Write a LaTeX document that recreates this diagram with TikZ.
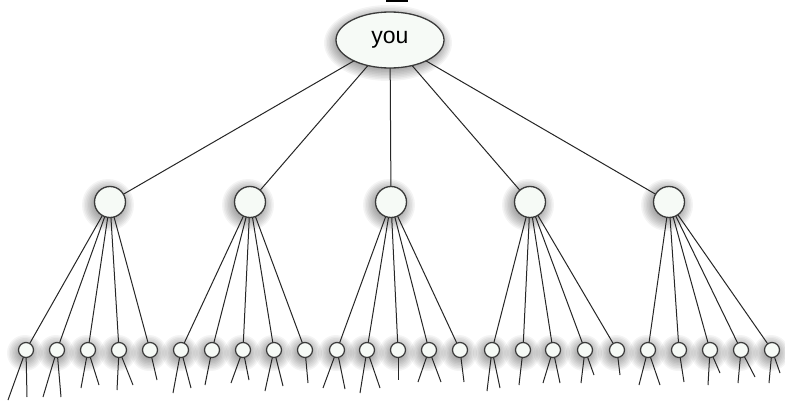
\documentclass[tikz,border=0pt]{standalone}
\usepackage{fontspec}
\setmainfont{Liberation Sans}
\usetikzlibrary{shapes.geometric}
\pgfdeclarelayer{edges}
\pgfsetlayers{edges,main}
\definecolor{nodefill}{HTML}{F6FAF6}
\definecolor{nodeline}{HTML}{3A3A3A}
\tikzset{
  % one ring of a soft halo; many stacked rings make the gradient
  haloring/.style={fill=black, fill opacity=0.045, draw=none},
  rootnode/.style={ellipse, draw=nodeline, line width=1.3pt, fill=nodefill,
      minimum width=108pt, minimum height=56pt, inner sep=0pt,
      font=\fontsize{23}{23}\selectfont},
  midnode/.style={circle, draw=nodeline, line width=1.3pt, fill=nodefill,
      minimum size=31pt, inner sep=0pt},
  leafnode/.style={circle, draw=nodeline, line width=1.2pt, fill=nodefill,
      minimum size=15pt, inner sep=0pt},
  link/.style={draw=black!85, line width=1pt},
}
\begin{document}
\begin{tikzpicture}[x=1pt, y=-1pt]
  \useasboundingbox (0,0) rectangle (785,401);
  \begin{pgfonlayer}{edges}
    \fill[white] (0,0) rectangle (785,401);
  \end{pgfonlayer}
  \fill[black] (386,0) rectangle (408,2);

  % top node and the five middle nodes
  \node[rootnode] (root) at (390,40) {you};
  \foreach \m/\x in {1/110, 2/250, 3/391, 4/530, 5/669}
    \node[midnode] (m\m) at (\x,202) {};

  % leaves
  \foreach \i/\x in {
     1/26,  2/57,  3/88,  4/119,  5/150,
     6/181, 7/212, 8/243, 9/274, 10/305,
    11/337,12/367,13/398,14/429, 15/460,
    16/492,17/523,18/553,19/585, 20/617,
    21/648,22/679,23/710,24/741, 25/772}
    \node[leafnode] (l\i) at (\x,350) {};

  % free ends of the lines leaving the leaves
  \foreach \n/\x/\y in {
     1a/8/400,   1b/27/397,  2a/43/397,  2b/61/397,
     3a/81/388,  3b/99/385,  4a/117/390, 4b/133/385,
     5a/157/380, 6a/173/393, 6b/191/388, 7a/205/385,
     8a/231/383, 8b/249/380, 9a/265/391, 9b/283/386,
    10a/308/383,11a/323/388,11b/345/389,12a/360/393,
    12b/380/388,13a/398/380,14a/418/382,14b/441/382,
    15a/464/382,16a/487/391,16b/500/388,17a/519/385,
    18a/543/383,18b/560/383,19a/581/383,19b/594/375,
    20a/620/375,21a/639/385,21b/660/385,22a/684/382,
    23a/708/385,23b/720/373,24a/738/383,24b/755/377,
    25a/769/383,25b/780/373}
    \coordinate (e\n) at (\x,\y);

  \begin{pgfonlayer}{edges}
    % halos under the nodes
    \foreach \k in {0,...,8} {
      \fill[haloring] ([shift={(-2,3)}]root.center)
        ellipse [x radius=52+1.5*\k, y radius=26+1.5*\k];
      \foreach \m in {1,...,5}
        \fill[haloring] ([shift={(-2,3)}]m\m.center) circle [radius=14+1.5*\k];
      \foreach \i in {1,...,25}
        \fill[haloring] ([shift={(-1,3)}]l\i.center) circle [radius=6+1.5*\k];
    }
    % connectors, kept beneath the nodes
    \foreach \m in {1,...,5}
      \draw[link] (root.center) -- (m\m.center);
    \foreach \i/\p in {1/1,2/1,3/1,4/1,5/1,6/2,7/2,8/2,9/2,10/2,
        11/3,12/3,13/3,14/3,15/3,16/4,17/4,18/4,19/4,20/4,
        21/5,22/5,23/5,24/5,25/5}
      \draw[link] (m\p.center) -- (l\i.center);
    \foreach \i/\s in {1/a,1/b,2/a,2/b,3/a,3/b,4/a,4/b,5/a,6/a,6/b,7/a,
        8/a,8/b,9/a,9/b,10/a,11/a,11/b,12/a,12/b,13/a,14/a,14/b,15/a,
        16/a,16/b,17/a,18/a,18/b,19/a,19/b,20/a,21/a,21/b,22/a,23/a,23/b,
        24/a,24/b,25/a,25/b}
      \draw[link] (l\i.center) -- (e\i\s);
  \end{pgfonlayer}
\end{tikzpicture}
\end{document}
